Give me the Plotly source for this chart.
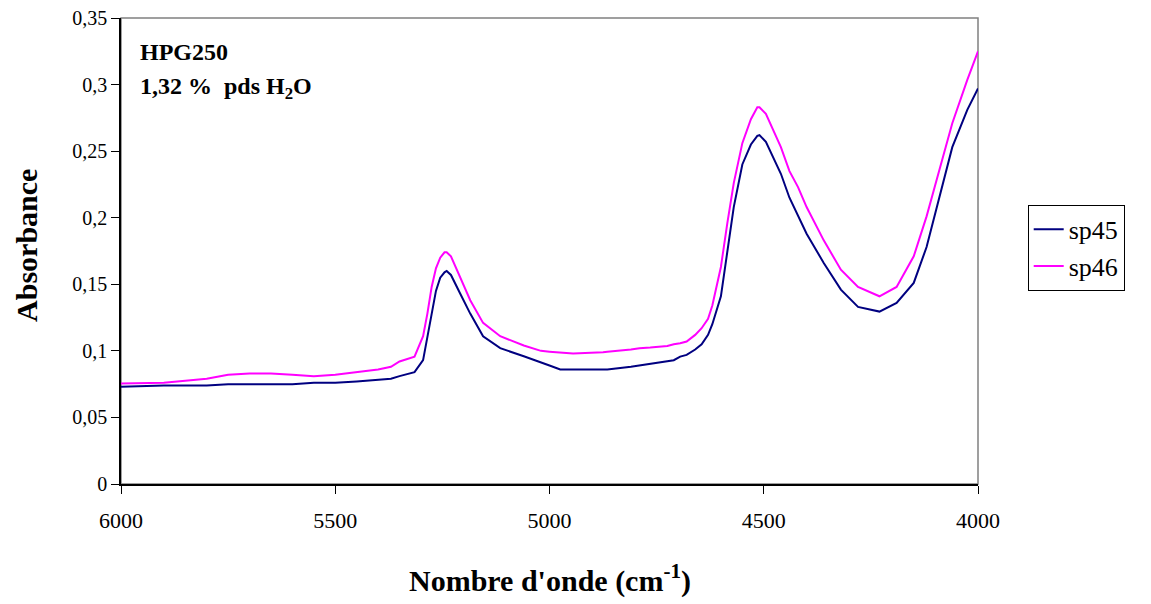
import plotly.graph_objects as go

wavenumber = [6000, 5900, 5800, 5750, 5700, 5650, 5600, 5550, 5500, 5450, 5400, 5370, 5350,
              5315, 5295, 5285, 5275, 5265, 5255, 5245, 5240, 5230, 5210, 5185, 5155, 5115,
              5060, 5020, 5000, 4975, 4945, 4875, 4865, 4810, 4790, 4765, 4725, 4710, 4695,
              4680, 4660, 4645, 4630, 4620, 4600, 4585, 4570, 4550, 4530, 4515, 4510, 4495,
              4460, 4440, 4420, 4400, 4360, 4320, 4280, 4230, 4190, 4150, 4120, 4090, 4060,
              4025, 4000]

sp45 = [0.073, 0.074, 0.074, 0.075, 0.075, 0.075, 0.075, 0.076, 0.076, 0.077, 0.078, 0.079, 0.081,
        0.084, 0.093, 0.110, 0.125, 0.145, 0.155, 0.159, 0.160, 0.157, 0.144, 0.128, 0.111, 0.102,
        0.096, 0.091, 0.089, 0.086, 0.086, 0.0857, 0.086, 0.088, 0.089, 0.090, 0.092, 0.093, 0.0957,
        0.097, 0.101, 0.105, 0.112, 0.120, 0.141, 0.176, 0.208, 0.240, 0.255, 0.2615, 0.262, 0.257,
        0.233, 0.215, 0.201, 0.188, 0.166, 0.146, 0.133, 0.1295, 0.136, 0.151, 0.178, 0.216, 0.253,
        0.281, 0.297]

sp46 = [0.0755, 0.076, 0.079, 0.082, 0.083, 0.083, 0.082, 0.081, 0.082, 0.084, 0.086, 0.088, 0.092,
        0.0957, 0.111, 0.128, 0.148, 0.162, 0.170, 0.174, 0.174, 0.171, 0.156, 0.138, 0.121, 0.111,
        0.104, 0.100, 0.0994, 0.099, 0.098, 0.099, 0.0994, 0.101, 0.102, 0.1025, 0.1037, 0.105, 0.1057,
        0.107, 0.112, 0.117, 0.124, 0.134, 0.163, 0.196, 0.226, 0.256, 0.274, 0.283, 0.283, 0.278,
        0.253, 0.235, 0.223, 0.208, 0.183, 0.161, 0.148, 0.141, 0.148, 0.171, 0.201, 0.236, 0.271,
        0.3035, 0.325]

series_names = ["sp45", "sp46"]
x_ticks = [6000, 5500, 5000, 4500, 4000]
y_ticks = [0, 0.05, 0.1, 0.15, 0.2, 0.25, 0.3, 0.35]

FONT = "Liberation Serif"

fig = go.Figure()
fig.add_trace(go.Scatter(x=wavenumber, y=sp45, mode="lines", name=series_names[0],
                         line=dict(color="#000080", width=2)))
fig.add_trace(go.Scatter(x=wavenumber, y=sp46, mode="lines", name=series_names[1],
                         line=dict(color="#FF00FF", width=2)))

# gray frame (top/right)
fig.add_shape(type="rect", xref="paper", yref="paper", x0=0, y0=0, x1=1, y1=1,
              line=dict(color="#808080", width=1.5), layer="below")

fig.update_layout(
    template="none",
    width=1143, height=596,
    margin=dict(l=113, r=173, t=10, b=120, autoexpand=False),
    paper_bgcolor="white", plot_bgcolor="white",
    separators=", ",
    font=dict(family=FONT, size=22, color="black"),
    showlegend=True,
    legend=dict(x=1.058, y=0.599, xanchor="left", yanchor="top",
                bordercolor="black", borderwidth=1, bgcolor="white",
                font=dict(family=FONT, size=26, color="black"),
                entrywidth=75, entrywidthmode="pixels"),
    xaxis=dict(range=[6000, 4000], tickvals=x_ticks, showgrid=False, zeroline=False,
               automargin=False,
               showline=True, linecolor="black", linewidth=1.5,
               ticks="outside", ticklen=8, tickcolor="black", tickwidth=1,
               ticklabelstandoff=8,
               tickfont=dict(family=FONT, size=22, color="black")),
    yaxis=dict(range=[0, 0.35], tickvals=y_ticks, showgrid=False, zeroline=False,
               automargin=False, ticklabeloverflow="allow",
               showline=True, linecolor="black", linewidth=1.5,
               ticks="outside", ticklen=8, tickcolor="black", tickwidth=1,
               tickfont=dict(family=FONT, size=20, color="black")),
    annotations=[
        dict(text="<b>Nombre d'onde (cm<sup>-1</sup>)</b>", xref="paper", yref="paper",
             x=0.5, y=-0.202, xanchor="center", yanchor="middle", showarrow=False,
             font=dict(family=FONT, size=30, color="black")),
        dict(text="<b>Absorbance</b>", xref="paper", yref="paper", textangle=-90,
             x=-0.1097, y=0.513, xanchor="center", yanchor="middle", showarrow=False,
             font=dict(family=FONT, size=30, color="black")),
        dict(text="<b>HPG250</b>", xref="paper", yref="paper", x=0.02, y=0.927,
             xanchor="left", yanchor="middle", showarrow=False,
             font=dict(family=FONT, size=24, color="black")),
        dict(text="<b>1,32 %  pds H<sub>2</sub>O</b>", xref="paper", yref="paper", x=0.02, y=0.85,
             xanchor="left", yanchor="middle", showarrow=False,
             font=dict(family=FONT, size=24, color="black")),
    ],
)

fig.write_html("out.html")
